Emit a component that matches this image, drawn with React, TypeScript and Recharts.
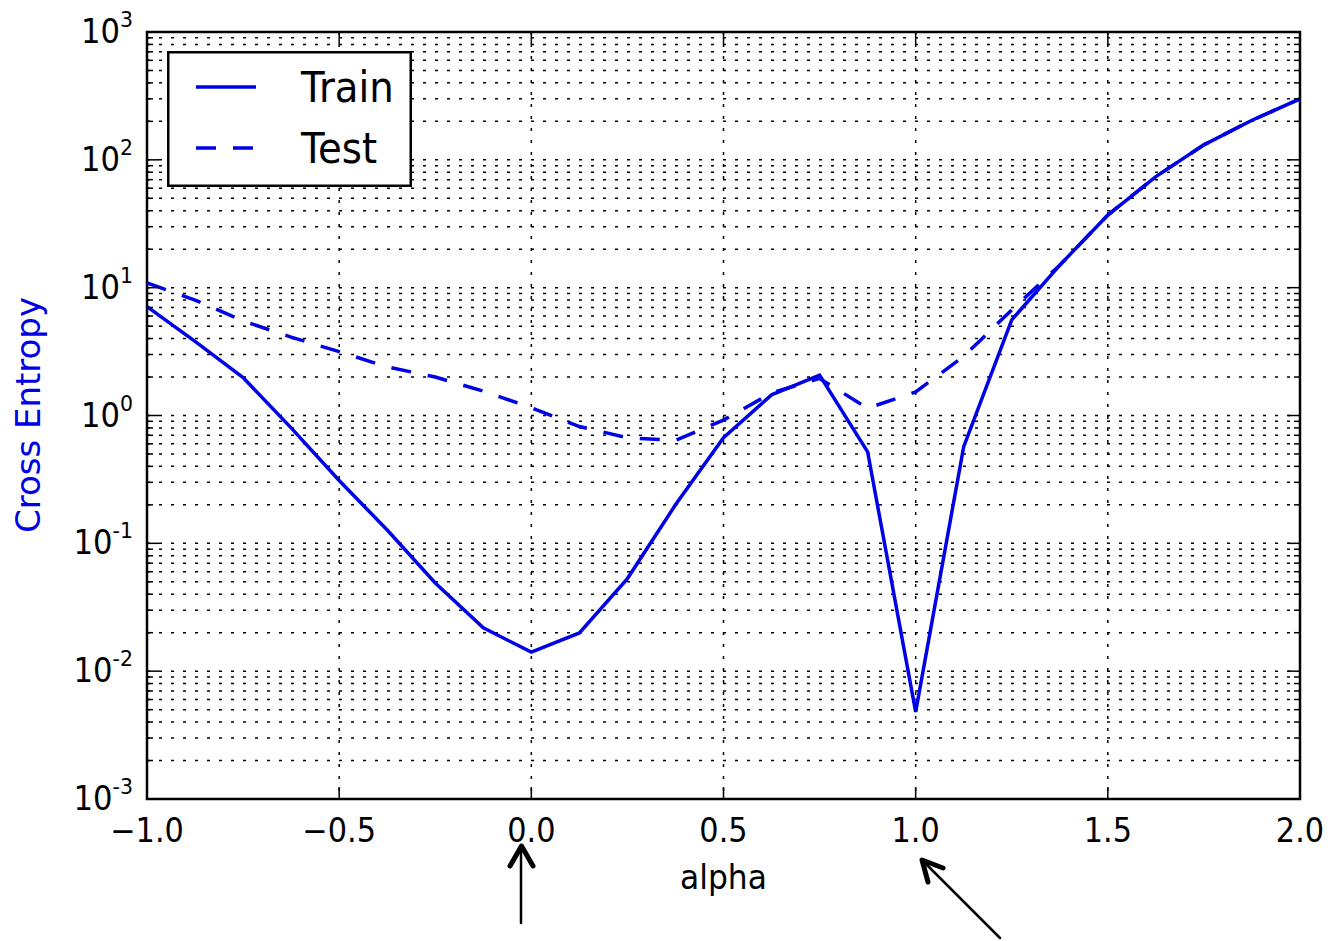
import { CartesianGrid, Customized, Legend, Line, LineChart, ReferenceArea, XAxis, YAxis } from 'recharts'

// interpolation coefficient along the path between the two solutions
const alpha = [-1, -0.875, -0.75, -0.625, -0.5, -0.375, -0.25, -0.125, 0, 0.125, 0.25, 0.375, 0.5, 0.625, 0.75, 0.875, 1, 1.125, 1.25, 1.375, 1.5, 1.625, 1.75, 1.875, 2]
const trainLoss = [7.1, 3.8, 1.98, 0.8, 0.31, 0.127, 0.049, 0.0218, 0.0141, 0.0199, 0.053, 0.2, 0.67, 1.45, 2.07, 0.52, 0.0048, 0.57, 5.6, 15, 37, 74, 131, 204, 300]
const testLoss = [10.9, 8.0, 5.5, 4.1, 3.16, 2.4, 2.0, 1.55, 1.15, 0.82, 0.67, 0.64, 0.92, 1.5, 1.95, 1.14, 1.53, 2.9, 6.7, 15, 37, 74, 131, 204, 300]

const xTicks = [-1, -0.5, 0, 0.5, 1, 1.5, 2]
const xTickLabels = ['\u22121.0', '\u22120.5', '0.0', '0.5', '1.0', '1.5', '2.0']
const yDecades = [0.001, 0.01, 0.1, 1, 10, 100, 1000]
const yExponents = ['-3', '-2', '-1', '0', '1', '2', '3']

const series = [
  { key: 'train', name: 'Train', dash: undefined as string | undefined },
  { key: 'test', name: 'Test', dash: '20 17' },
]

const data = alpha.map((a, i) => ({ alpha: a, train: trainLoss[i], test: testLoss[i] }))

// minor log ticks 2..9 within each decade
const yMinor = yDecades.slice(0, -1).flatMap((d) => [2, 3, 4, 5, 6, 7, 8, 9].map((m) => Number((d * m).toPrecision(3))))
const yTicks = [...yDecades, ...yMinor].sort((a, b) => a - b)

const PLOT = { left: 147, top: 32, right: 1300, bottom: 799 }
const W = 1330
const H = 941
const BLUE = '#0000e6'
const FONT = '"DejaVu Sans", sans-serif'

function decadeIndex(v: number) {
  return yDecades.findIndex((d) => Math.abs(d - v) / d < 1e-6)
}

function YTick(props: any) {
  const { y, payload } = props
  const i = decadeIndex(payload.value)
  const len = i >= 0 ? 12 : 6
  return (
    <g>
      <line x1={PLOT.left} x2={PLOT.left + len} y1={y} y2={y} stroke="#000" strokeWidth={1.5} />
      <line x1={PLOT.right} x2={PLOT.right - len} y1={y} y2={y} stroke="#000" strokeWidth={1.5} />
      {i >= 0 && (
        <text transform={`translate(${PLOT.left - 14},${y + 11}) scale(0.93,1)`} textAnchor="end" fontSize={33} fontFamily={FONT} fill="#000">
          10<tspan dy={-16} fontSize={22}>{yExponents[i]}</tspan>
        </text>
      )}
    </g>
  )
}

function XTick(props: any) {
  const { x, payload } = props
  const i = xTicks.indexOf(payload.value)
  return (
    <g>
      <line x1={x} x2={x} y1={PLOT.bottom} y2={PLOT.bottom - 12} stroke="#000" strokeWidth={1.5} />
      <line x1={x} x2={x} y1={PLOT.top} y2={PLOT.top + 12} stroke="#000" strokeWidth={1.5} />
      <text transform={`translate(${x},${PLOT.bottom + 43}) scale(0.92,1)`} textAnchor="middle" fontSize={33} fontFamily={FONT} fill="#000">
        {xTickLabels[i]}
      </text>
    </g>
  )
}

function LegendBox() {
  return (
    <svg width={245} height={136} style={{ display: 'block' }}>
      <rect x={1.25} y={1.25} width={242.5} height={133.5} fill="#fff" stroke="#000" strokeWidth={2.5} />
      {series.map((s, i) => {
        const cy = 36 + i * 61
        return (
          <g key={s.key}>
            <line x1={29} x2={89} y1={cy} y2={cy} stroke={BLUE} strokeWidth={3.5} strokeDasharray={s.dash} />
            <text transform={`translate(134,${cy + 15}) scale(0.9,1)`} fontSize={43} fontFamily={FONT} fill="#000">
              {s.name}
            </text>
          </g>
        )
      })}
    </svg>
  )
}

function Annotations() {
  return (
    <g fill="none" stroke="#000" strokeLinecap="round" strokeLinejoin="round">
      <text transform={`translate(${(PLOT.left + PLOT.right) / 2},889) scale(0.95,1)`} textAnchor="middle" fontSize={33} fontFamily={FONT} fill="#000" stroke="none">
        alpha
      </text>
      <text transform="translate(40,415) rotate(-90)" textAnchor="middle" fontSize={34} fontFamily={FONT} fill={BLUE} stroke="none">
        Cross Entropy
      </text>
      <line x1={521} y1={923} x2={521} y2={847} strokeWidth={2.5} />
      <polyline points="510,866 521.5,846 533,866" strokeWidth={5} />
      <line x1={1000} y1={938} x2={924} y2={862} strokeWidth={2.5} />
      <polyline points="943,868 922,860 928,882" strokeWidth={5} />
    </g>
  )
}

export default function App() {
  return (
    <div style={{ position: 'absolute', left: 0, top: 0, width: W, height: H, background: '#fff', fontFamily: FONT }}>
      <LineChart width={W} height={H} data={data} margin={{ top: PLOT.top, right: W - PLOT.right, left: 0, bottom: 0 }}>
        <CartesianGrid stroke="#000" strokeWidth={1.5} strokeDasharray="3 9" />
        <XAxis
          dataKey="alpha"
          type="number"
          domain={[-1, 2]}
          ticks={xTicks}
          interval={0}
          height={H - PLOT.bottom}
          axisLine={false}
          tickLine={false}
          tick={<XTick />}
        />
        <YAxis
          type="number"
          scale="log"
          domain={[0.001, 1000]}
          allowDataOverflow
          ticks={yTicks}
          interval={0}
          width={PLOT.left}
          axisLine={false}
          tickLine={false}
          tick={<YTick />}
        />
        {series.map((s) => (
          <Line
            key={s.key}
            dataKey={s.key}
            name={s.name}
            type="linear"
            stroke={BLUE}
            strokeWidth={3.5}
            strokeDasharray={s.dash}
            dot={false}
            activeDot={false}
            isAnimationActive={false}
          />
        ))}
        <ReferenceArea x1={-1} x2={2} y1={0.001} y2={1000} fill="none" stroke="#000" strokeWidth={2.5} ifOverflow="visible" />
        <Customized component={<Annotations />} />
        <Legend
          layout="vertical"
          align="center"
          verticalAlign="middle"
          wrapperStyle={{ left: 167, top: 51, width: 245, height: 136 }}
          content={() => <LegendBox />}
        />
      </LineChart>
    </div>
  )
}
